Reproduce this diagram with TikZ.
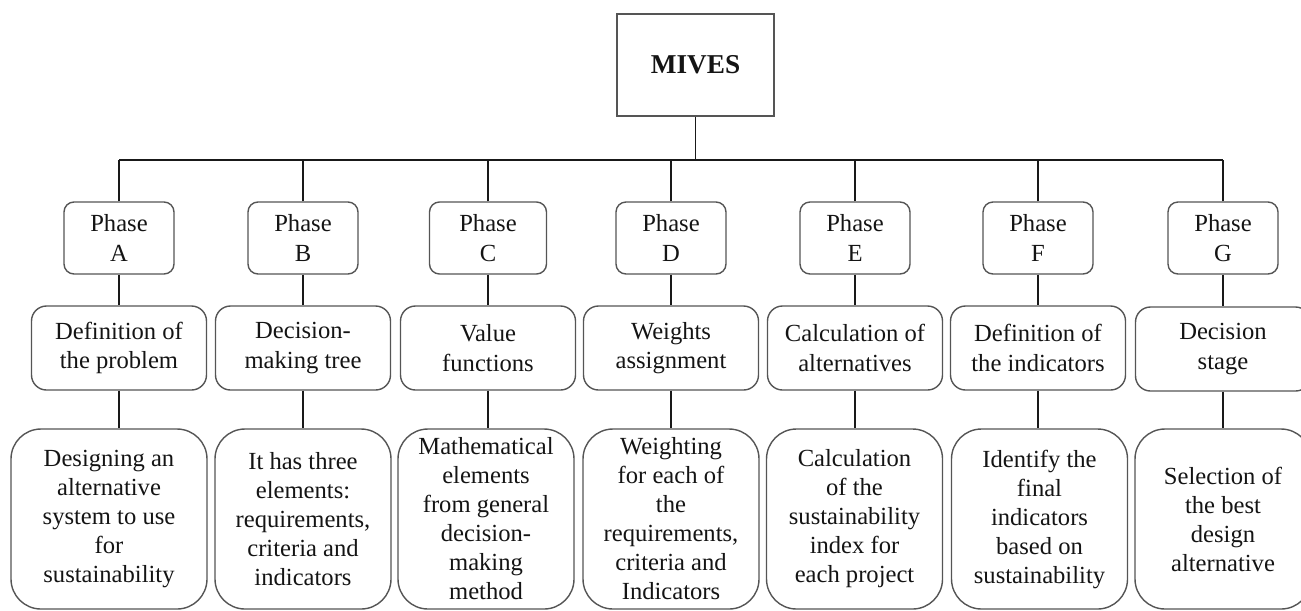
\documentclass[tikz,border=0pt]{standalone}
\usepackage{fontspec}
\setmainfont{Liberation Serif}
\definecolor{colorline}  {RGB}{ 25, 25, 25}
\definecolor{colorframe} {RGB}{ 85, 85, 85}
\definecolor{colortext}  {RGB}{ 20, 20, 20}

\begin{document}
\begin{tikzpicture}[
    head/.style={draw=colorframe,line width=0.8pt,text=colortext,minimum width=3.14cm,minimum height=2.04cm,font={\fontsize{15.5}{18}\selectfont\bfseries}},
    phase/.style={draw=colorframe,line width=0.8pt,rounded corners=0.2cm,text=colortext,align=center,minimum width=2.2cm,minimum height=1.44cm,inner sep=1pt,font={\fontsize{14}{16.8}\selectfont}},
    task/.style={draw=colorframe,line width=0.8pt,rounded corners=0.3cm,text=colortext,align=center,minimum width=3.5cm,minimum height=1.68cm,inner sep=1pt,font={\fontsize{14}{16.6}\selectfont}},
    detail/.style={draw=colorframe,line width=0.8pt,rounded corners=0.6cm,text=colortext,align=center,minimum width=3.52cm,minimum height=3.6cm,inner sep=1pt,font={\fontsize{14}{16.5}\selectfont}},
    link/.style={draw=colorline,line width=0.6pt}
]
    % Frame of the picture
    \useasboundingbox (0,0) rectangle (26.02,-12.2);

    % MIVES
    \node[head] (mives) at (13.91,-1.30) {MIVES};

    % Bus line under MIVES
    \coordinate (busA) at (2.38,-3.2);
    \coordinate (busG) at (24.46,-3.2);
    \draw[link] (busA) -- (busG);
    \draw[link] (mives) -- (mives |- busA);

    % Phases
    \node[phase] (phaseA) at (2.38,-4.76)  {Phase\\A};
    \node[phase] (phaseB) at (6.06,-4.76)  {Phase\\B};
    \node[phase,minimum width=2.34cm] (phaseC) at (9.76,-4.76) {Phase\\C};
    \node[phase] (phaseD) at (13.42,-4.76) {Phase\\D};
    \node[phase] (phaseE) at (17.10,-4.76) {Phase\\E};
    \node[phase] (phaseF) at (20.76,-4.76) {Phase\\F};
    \node[phase] (phaseG) at (24.46,-4.76) {Phase\\G};

    % Lines from the bus to the phases
    \draw[link] (phaseA) -- (phaseA |- busA);
    \draw[link] (phaseB) -- (phaseB |- busA);
    \draw[link] (phaseC) -- (phaseC |- busA);
    \draw[link] (phaseD) -- (phaseD |- busA);
    \draw[link] (phaseE) -- (phaseE |- busA);
    \draw[link] (phaseF) -- (phaseF |- busA);
    \draw[link] (phaseG) -- (phaseG |- busA);

    % Tasks of the phases
    \node[task] (taskA) at (2.38,-6.96)  {Definition of\\the problem};
    \node[task] (taskB) at (6.06,-6.96)  {Decision-\\making tree};
    \node[task] (taskC) at (9.76,-6.96)  {Value\\functions};
    \node[task] (taskD) at (13.42,-6.96) {Weights\\assignment};
    \node[task] (taskE) at (17.10,-6.96) {Calculation of\\alternatives};
    \node[task] (taskF) at (20.76,-6.96) {Definition of\\the indicators};
    \node[task] (taskG) at (24.46,-6.98) {Decision\\stage};

    % Lines from the phases to the tasks
    \draw[link] (phaseA) -- (taskA);
    \draw[link] (phaseB) -- (taskB);
    \draw[link] (phaseC) -- (taskC);
    \draw[link] (phaseD) -- (taskD);
    \draw[link] (phaseE) -- (taskE);
    \draw[link] (phaseF) -- (taskF);
    \draw[link] (phaseG) -- (taskG);

    % Details of the tasks
    \node[detail,minimum width=3.92cm] (detailA) at (2.18,-10.38) {Designing an\\alternative\\system to use\\for\\sustainability};
    \node[detail] (detailB) at (6.06,-10.38)  {It has three\\elements:\\requirements,\\criteria and\\indicators};
    \node[detail] (detailC) at (9.72,-10.38)  {Mathematical\\elements\\from general\\decision-\\making\\method};
    \node[detail] (detailD) at (13.42,-10.38) {Weighting\\for each of\\the\\requirements,\\criteria and\\Indicators};
    \node[detail] (detailE) at (17.09,-10.38) {Calculation\\of the\\sustainability\\index for\\each project};
    \node[detail] (detailF) at (20.79,-10.38) {Identify the\\final\\indicators\\based on\\sustainability};
    \node[detail] (detailG) at (24.46,-10.38) {Selection of\\the best\\design\\alternative};

    % Lines from the tasks to the details
    \draw[link] (taskA) -- (taskA |- detailA.north);
    \draw[link] (taskB) -- (taskB |- detailB.north);
    \draw[link] (taskC) -- (taskC |- detailC.north);
    \draw[link] (taskD) -- (taskD |- detailD.north);
    \draw[link] (taskE) -- (taskE |- detailE.north);
    \draw[link] (taskF) -- (taskF |- detailF.north);
    \draw[link] (taskG) -- (taskG |- detailG.north);

\end{tikzpicture}
\end{document}
